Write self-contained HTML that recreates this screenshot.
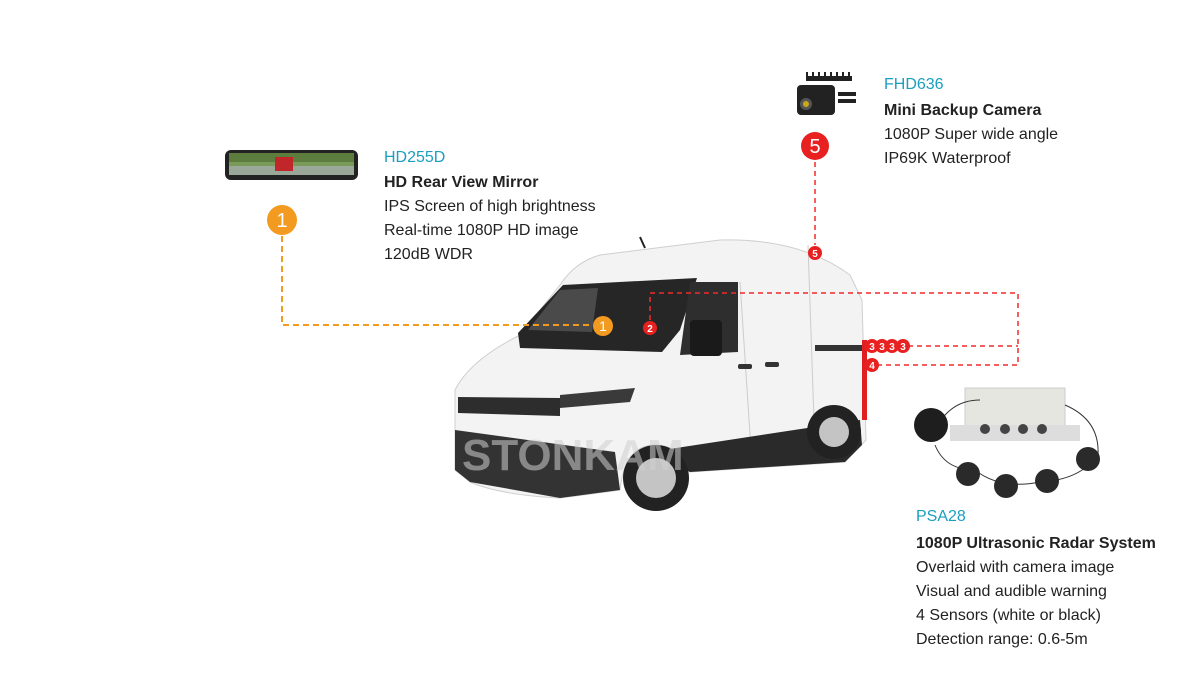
<!DOCTYPE html>
<html><head><meta charset="utf-8"><style>
html,body{margin:0;padding:0;background:#fff;}
svg{display:block;}
text{font-family:"Liberation Sans",sans-serif;}
</style></head><body>
<svg width="1200" height="700" viewBox="0 0 1200 700" xmlns="http://www.w3.org/2000/svg">
<!-- mirror -->
<rect x="225" y="150" width="133" height="30" rx="6" fill="#222"/>
<rect x="229" y="153" width="125" height="22" rx="3" fill="#7a9a5a"/>
<rect x="229" y="153" width="125" height="9" fill="#5d7d3e"/>
<rect x="229" y="166" width="125" height="9" fill="#9aa89a"/>
<rect x="275" y="157" width="18" height="14" fill="#c0262a"/>
<!-- camera -->
<g fill="#222">
<rect x="806" y="76" width="46" height="5"/>
<rect x="806" y="72" width="2" height="8"/><rect x="812" y="72" width="2" height="8"/><rect x="818" y="72" width="2" height="8"/><rect x="824" y="72" width="2" height="8"/><rect x="830" y="72" width="2" height="8"/><rect x="836" y="72" width="2" height="8"/><rect x="842" y="72" width="2" height="8"/><rect x="848" y="72" width="2" height="8"/>
<rect x="797" y="85" width="38" height="30" rx="4"/>
<rect x="838" y="92" width="18" height="4"/><rect x="838" y="99" width="18" height="4"/>
</g>
<circle cx="806" cy="104" r="6" fill="#555"/><circle cx="806" cy="104" r="3" fill="#c9a820"/>
<!-- van -->
<g>
<path d="M455 390 Q470 360 520 335 L560 285 Q575 262 600 255 L720 240 Q800 238 850 275 L862 300 L866 440 L845 462 L690 472 Q680 445 655 445 Q625 445 620 490 L560 498 Q500 495 470 482 L455 470 Z" fill="#f3f3f3" stroke="#cfcfcf"/>
<path d="M518 333 L563 285 L697 278 L680 330 L662 352 L520 348 Z" fill="#262626"/>
<path d="M528 330 L560 290 L598 288 L592 332 Z" fill="#4a4a4a"/>
<path d="M690 282 L738 282 L738 352 L680 355 Z" fill="#2e2e2e"/>
<rect x="690" y="320" width="32" height="36" rx="4" fill="#1a1a1a"/>
<line x1="740" y1="282" x2="752" y2="465" stroke="#ccc"/>
<line x1="808" y1="245" x2="815" y2="450" stroke="#ccc"/>
<rect x="815" y="345" width="48" height="6" fill="#333"/>
<rect x="765" y="362" width="14" height="5" rx="2" fill="#333"/><rect x="738" y="364" width="14" height="5" rx="2" fill="#333"/>
<path d="M458 397 L560 398 L560 416 L458 413 Z" fill="#2d2d2d"/>
<path d="M560 395 L635 388 L630 402 L560 408 Z" fill="#3a3a3a"/>
<path d="M455 430 L615 452 L620 490 L560 498 L470 482 L455 470 Z" fill="#333"/>
<path d="M650 452 L860 420 L862 445 L845 462 L690 472 Z" fill="#2a2a2a"/>
<circle cx="656" cy="478" r="33" fill="#222"/><circle cx="656" cy="478" r="20" fill="#c4c4c4"/>
<circle cx="834" cy="432" r="27" fill="#222"/><circle cx="834" cy="432" r="15" fill="#c4c4c4"/>
<line x1="640" y1="237" x2="645" y2="248" stroke="#222" stroke-width="2"/>
<rect x="862" y="340" width="5" height="80" fill="#e02020"/>
<text x="462" y="470" font-size="44" font-weight="bold" fill="#cfcfcf" opacity="0.55">STONKAM</text>
</g>
<!-- radar -->
<rect x="965" y="388" width="100" height="52" fill="#e6e6e0" stroke="#ccc"/>
<rect x="950" y="425" width="130" height="16" fill="#ddd"/>
<circle cx="985" cy="429" r="5" fill="#444"/><circle cx="1005" cy="429" r="5" fill="#444"/><circle cx="1023" cy="429" r="5" fill="#444"/><circle cx="1042" cy="429" r="5" fill="#444"/>
<path d="M935 430 Q950 400 980 400 M1065 405 Q1100 420 1098 455 Q1080 480 1040 482 Q1000 490 975 470 Q945 470 935 445" fill="none" stroke="#333"/>
<circle cx="931" cy="425" r="17" fill="#1e1e1e"/>
<circle cx="968" cy="474" r="12" fill="#2a2a2a"/><circle cx="1006" cy="486" r="12" fill="#2a2a2a"/><circle cx="1047" cy="481" r="12" fill="#2a2a2a"/><circle cx="1088" cy="459" r="12" fill="#2a2a2a"/>
<!-- connectors -->
<path d="M282 236 V325 H592" fill="none" stroke="#f39a20" stroke-width="2" stroke-dasharray="6,4"/>
<path d="M650 320 V293 H1018 V365 H878 M908 346 H1018 M815 162 V245" fill="none" stroke="#f02a2a" stroke-width="1.5" stroke-dasharray="5,4"/>
<circle cx="282" cy="220" r="15" fill="#f39a20"/><text x="282" y="227" font-size="20" fill="#fff" text-anchor="middle">1</text>
<circle cx="603" cy="326" r="10" fill="#f39a20"/><text x="603" y="331" font-size="14" fill="#fff" text-anchor="middle">1</text>
<circle cx="650" cy="328" r="7" fill="#e82020"/><text x="650" y="332" font-size="10" fill="#fff" text-anchor="middle" font-weight="bold">2</text>
<circle cx="815" cy="146" r="14" fill="#e82020"/><text x="815" y="153" font-size="20" fill="#fff" text-anchor="middle">5</text>
<circle cx="815" cy="253" r="7" fill="#e82020"/><text x="815" y="257" font-size="10" fill="#fff" text-anchor="middle" font-weight="bold">5</text>
<g fill="#e82020"><circle cx="872" cy="346" r="7"/><circle cx="882" cy="346" r="7"/><circle cx="892" cy="346" r="7"/><circle cx="903" cy="346" r="7"/><circle cx="872" cy="365" r="7"/></g>
<g fill="#fff" font-size="10" text-anchor="middle" font-weight="bold"><text x="872" y="350">3</text><text x="882" y="350">3</text><text x="892" y="350">3</text><text x="903" y="350">3</text><text x="872" y="369">4</text></g>
<!-- texts -->
<g font-size="16" fill="#222">
<text x="384" y="162" fill="#1a9fc0">HD255D</text>
<text x="384" y="187" font-weight="bold">HD Rear View Mirror</text>
<text x="384" y="211">IPS Screen of high brightness</text>
<text x="384" y="235">Real-time 1080P HD image</text>
<text x="384" y="259">120dB WDR</text>
<text x="884" y="89" fill="#1a9fc0">FHD636</text>
<text x="884" y="115" font-weight="bold">Mini Backup Camera</text>
<text x="884" y="139">1080P Super wide angle</text>
<text x="884" y="163">IP69K Waterproof</text>
<text x="916" y="521" fill="#1a9fc0">PSA28</text>
<text x="916" y="548" font-weight="bold">1080P Ultrasonic Radar System</text>
<text x="916" y="572">Overlaid with camera image</text>
<text x="916" y="596">Visual and audible warning</text>
<text x="916" y="620">4 Sensors (white or black)</text>
<text x="916" y="644">Detection range: 0.6-5m</text>
</g>
</svg>
</body></html>
